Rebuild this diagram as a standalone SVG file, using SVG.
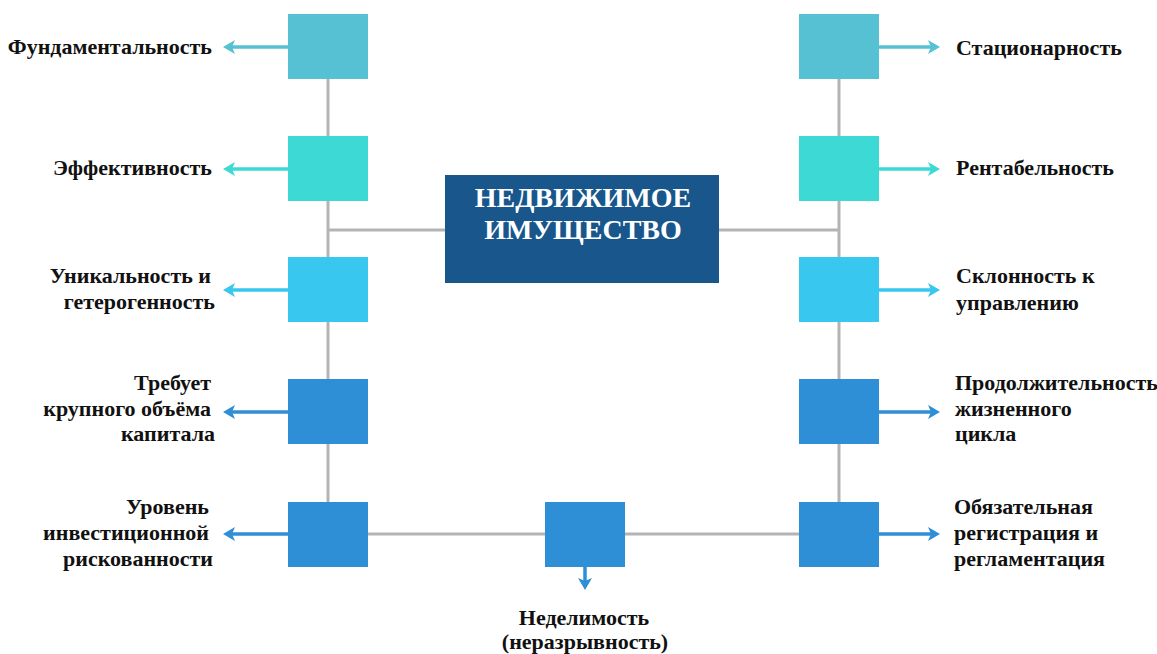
<svg xmlns="http://www.w3.org/2000/svg" width="1157" height="654" viewBox="0 0 1157 654">
  <style>
    .lbl { font-family: "Liberation Serif", "DejaVu Serif", serif; font-weight: bold; font-size: 22px; fill: #111; }
    .end { text-anchor: end; }
    .mid { text-anchor: middle; }
    .title { font-family: "Liberation Serif", "DejaVu Serif", serif; font-weight: bold; font-size: 28px; fill: #ffffff; text-anchor: middle; }
    .link { stroke: #b4b4b4; stroke-width: 3; fill: none; }
    .arr { stroke-width: 3.5; fill: none; }
    .c1 { fill: #56c1d2; }
    .c2 { fill: #3dd9d5; }
    .c3 { fill: #38c7ef; }
    .c4 { fill: #2e8ed6; }
  </style>
  <defs>
    <marker id="h1" markerUnits="userSpaceOnUse" viewBox="0 0 12 14" markerWidth="12" markerHeight="14" refX="5" refY="7" orient="auto">
      <path d="M0,0 L12,7 L0,14 L3,7 Z" fill="#56c1d2"/>
    </marker>
    <marker id="h2" markerUnits="userSpaceOnUse" viewBox="0 0 12 14" markerWidth="12" markerHeight="14" refX="5" refY="7" orient="auto">
      <path d="M0,0 L12,7 L0,14 L3,7 Z" fill="#3dd9d5"/>
    </marker>
    <marker id="h3" markerUnits="userSpaceOnUse" viewBox="0 0 12 14" markerWidth="12" markerHeight="14" refX="5" refY="7" orient="auto">
      <path d="M0,0 L12,7 L0,14 L3,7 Z" fill="#38c7ef"/>
    </marker>
    <marker id="h4" markerUnits="userSpaceOnUse" viewBox="0 0 12 14" markerWidth="12" markerHeight="14" refX="5" refY="7" orient="auto">
      <path d="M0,0 L12,7 L0,14 L3,7 Z" fill="#2e8ed6"/>
    </marker>
  </defs>

  <rect width="1157" height="654" fill="#ffffff"/>

  <!-- connectors -->
  <g id="connectors">
    <line class="link" x1="328" y1="46" x2="328" y2="534"/>
    <line class="link" x1="839" y1="46" x2="839" y2="534"/>
    <line class="link" x1="328" y1="230" x2="445" y2="230"/>
    <line class="link" x1="719" y1="230" x2="839" y2="230"/>
    <line class="link" x1="328" y1="534" x2="839" y2="534"/>

    <line class="arr" stroke="#56c1d2" x1="288" y1="47" x2="230" y2="47" marker-end="url(#h1)"/>
    <line class="arr" stroke="#56c1d2" x1="879" y1="47" x2="933" y2="47" marker-end="url(#h1)"/>
    <line class="arr" stroke="#3dd9d5" x1="288" y1="169" x2="230" y2="169" marker-end="url(#h2)"/>
    <line class="arr" stroke="#3dd9d5" x1="879" y1="169" x2="933" y2="169" marker-end="url(#h2)"/>
    <line class="arr" stroke="#38c7ef" x1="288" y1="290" x2="230" y2="290" marker-end="url(#h3)"/>
    <line class="arr" stroke="#38c7ef" x1="879" y1="290" x2="933" y2="290" marker-end="url(#h3)"/>
    <line class="arr" stroke="#2e8ed6" x1="288" y1="412" x2="230" y2="412" marker-end="url(#h4)"/>
    <line class="arr" stroke="#2e8ed6" x1="879" y1="412" x2="933" y2="412" marker-end="url(#h4)"/>
    <line class="arr" stroke="#2e8ed6" x1="288" y1="534" x2="230" y2="534" marker-end="url(#h4)"/>
    <line class="arr" stroke="#2e8ed6" x1="879" y1="534" x2="933" y2="534" marker-end="url(#h4)"/>
    <line class="arr" stroke="#2e8ed6" x1="585" y1="567" x2="585" y2="583" marker-end="url(#h4)"/>
  </g>

  <!-- central node -->
  <g id="node-center">
    <rect x="445" y="175" width="274" height="108" fill="#18568b"/>
    <text class="title" x="583" y="207">НЕДВИЖИМОЕ</text>
    <text class="title" x="583" y="239">ИМУЩЕСТВО</text>
  </g>

  <!-- left column -->
  <g id="node-l1">
    <rect class="c1" x="288" y="14" width="80" height="65"/>
    <text class="lbl end" x="212" y="54">Фундаментальность</text>
  </g>
  <g id="node-l2">
    <rect class="c2" x="288" y="136" width="80" height="65"/>
    <text class="lbl end" x="212" y="175">Эффективность</text>
  </g>
  <g id="node-l3">
    <rect class="c3" x="288" y="257" width="80" height="65"/>
    <text class="lbl end" x="211" y="283">Уникальность и</text>
    <text class="lbl end" x="215" y="309">гетерогенность</text>
  </g>
  <g id="node-l4">
    <rect class="c4" x="288" y="379" width="80" height="65"/>
    <text class="lbl end" x="211" y="390">Требует</text>
    <text class="lbl end" x="211" y="416">крупного объёма</text>
    <text class="lbl end" x="215" y="441">капитала</text>
  </g>
  <g id="node-l5">
    <rect class="c4" x="288" y="502" width="80" height="65"/>
    <text class="lbl end" x="209" y="514">Уровень</text>
    <text class="lbl end" x="209" y="540">инвестиционной</text>
    <text class="lbl end" x="213" y="566">рискованности</text>
  </g>

  <!-- right column -->
  <g id="node-r1">
    <rect class="c1" x="799" y="14" width="80" height="65"/>
    <text class="lbl" x="956" y="55">Стационарность</text>
  </g>
  <g id="node-r2">
    <rect class="c2" x="799" y="136" width="80" height="65"/>
    <text class="lbl" x="956" y="175">Рентабельность</text>
  </g>
  <g id="node-r3">
    <rect class="c3" x="799" y="257" width="80" height="65"/>
    <text class="lbl" x="956" y="283">Склонность к</text>
    <text class="lbl" x="956" y="310">управлению</text>
  </g>
  <g id="node-r4">
    <rect class="c4" x="799" y="379" width="80" height="65"/>
    <text class="lbl" x="955" y="390">Продолжительность</text>
    <text class="lbl" x="955" y="416">жизненного</text>
    <text class="lbl" x="955" y="441">цикла</text>
  </g>
  <g id="node-r5">
    <rect class="c4" x="799" y="502" width="80" height="65"/>
    <text class="lbl" x="954" y="514">Обязательная</text>
    <text class="lbl" x="954" y="540">регистрация и</text>
    <text class="lbl" x="954" y="566">регламентация</text>
  </g>

  <!-- bottom node -->
  <g id="node-b">
    <rect class="c4" x="545" y="502" width="80" height="65"/>
    <text class="lbl mid" x="584" y="625">Неделимость</text>
    <text class="lbl mid" x="585" y="649">(неразрывность)</text>
  </g>
</svg>
